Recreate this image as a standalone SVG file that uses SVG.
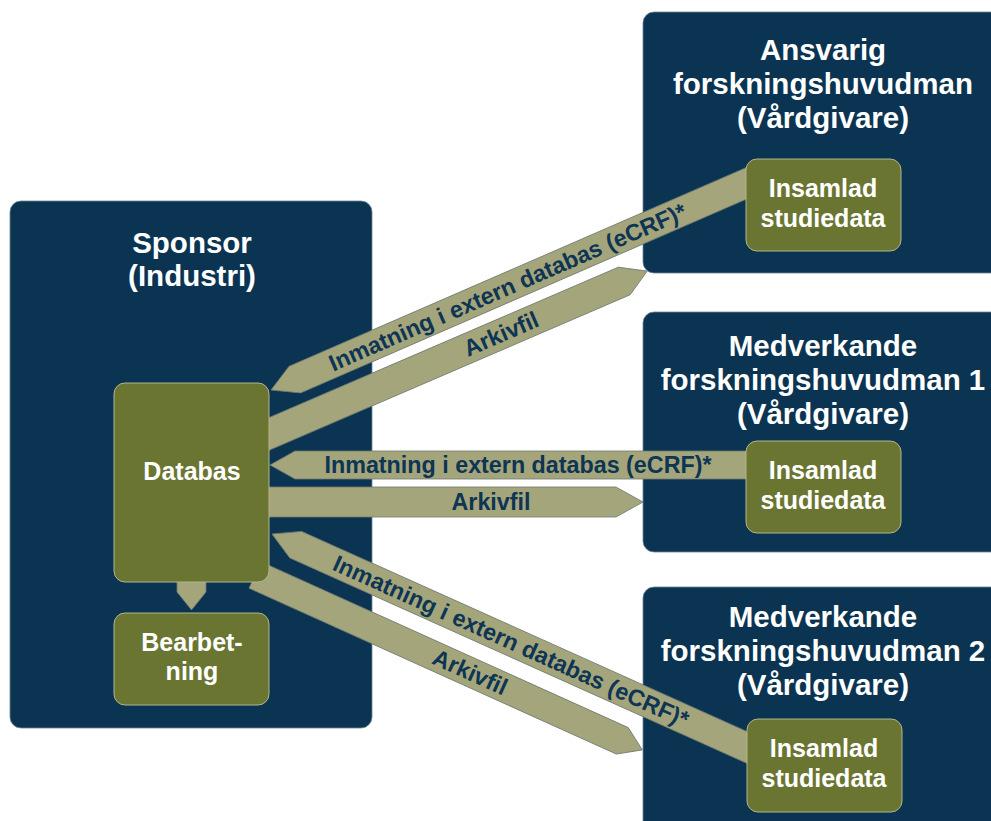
<svg xmlns="http://www.w3.org/2000/svg" width="991" height="821" viewBox="0 0 991 821">
  <style>
    .org { fill: #0b3452; stroke: #6f8496; stroke-width: 0.8; }
    .unit { fill: #6b7532; stroke: #b4b58c; stroke-width: 1; }
    .flow { fill: #a4a57b; stroke: #6f7a72; stroke-width: 0.8; }
    .title { font-family: "Liberation Sans", Arial, sans-serif; font-weight: bold; font-size: 29.5px; fill: #ffffff; text-anchor: middle; }
    .name { font-family: "Liberation Sans", Arial, sans-serif; font-weight: bold; font-size: 25px; fill: #ffffff; text-anchor: middle; }
    .lbl { font-family: "Liberation Sans", Arial, sans-serif; font-weight: bold; font-size: 23.3px; fill: #0e3553; text-anchor: middle; }
  </style>
  <rect width="991" height="821" fill="#ffffff"/>

  <!-- organisations -->
  <g id="sponsor">
    <rect class="org" x="10" y="201" width="362" height="527" rx="11"/>
    <text class="title" x="192" y="253">Sponsor</text>
    <text class="title" x="192" y="286">(Industri)</text>
  </g>
  <g id="ansvarig">
    <rect class="org" x="643" y="12" width="370" height="261" rx="11"/>
    <text class="title" x="823" y="60">Ansvarig</text>
    <text class="title" x="823" y="94">forskningshuvudman</text>
    <text class="title" x="823" y="128">(Vårdgivare)</text>
  </g>
  <g id="medverkande1">
    <rect class="org" x="643" y="312" width="370" height="240" rx="11"/>
    <text class="title" x="823" y="356">Medverkande</text>
    <text class="title" x="823" y="390">forskningshuvudman 1</text>
    <text class="title" x="823" y="424">(Vårdgivare)</text>
  </g>
  <g id="medverkande2">
    <rect class="org" x="643" y="587" width="370" height="260" rx="11"/>
    <text class="title" x="823" y="627">Medverkande</text>
    <text class="title" x="823" y="661">forskningshuvudman 2</text>
    <text class="title" x="823" y="695">(Vårdgivare)</text>
  </g>

  <!-- data flows -->
  <g id="connectors">
    <!-- Ansvarig -> Databas (eCRF) -->
    <g transform="translate(271,390) rotate(-23.5)">
      <polygon class="flow" points="0,0 26,-14.5 540,-14.5 540,14.5 26,14.5"/>
      <text class="lbl" x="258" y="8">Inmatning i extern databas (eCRF)*</text>
    </g>
    <!-- Databas -> Ansvarig (Arkivfil) -->
    <g transform="translate(255,440) rotate(-23.3)">
      <polygon class="flow" points="0,-15 402,-15 427,0 402,15 0,15"/>
      <text class="lbl" x="268" y="8">Arkivfil</text>
    </g>
    <!-- Medverkande 1 -> Databas (eCRF) -->
    <g transform="translate(270,465)">
      <polygon class="flow" points="0,0 25,-14 490,-14 490,14 25,14"/>
      <text class="lbl" x="248" y="8">Inmatning i extern databas (eCRF)*</text>
    </g>
    <!-- Databas -> Medverkande 1 (Arkivfil) -->
    <g transform="translate(255,502)">
      <polygon class="flow" points="0,-15 361,-15 388,0 361,15 0,15"/>
      <text class="lbl" x="236" y="8">Arkivfil</text>
    </g>
    <!-- Medverkande 2 -> Databas (eCRF) -->
    <g transform="translate(272,534) rotate(24.2)">
      <polygon class="flow" points="0,0 26,-14.5 540,-14.5 540,14.5 26,14.5"/>
      <text class="lbl" x="262" y="8">Inmatning i extern databas (eCRF)*</text>
    </g>
    <!-- Databas -> Medverkande 2 (Arkivfil) -->
    <g transform="translate(255,575) rotate(24.3)">
      <polygon class="flow" points="0,-14.5 403,-14.5 425,0 403,14.5 0,14.5"/>
      <text class="lbl" x="236" y="8">Arkivfil</text>
    </g>
    <!-- Databas -> Bearbetning -->
    <polygon class="flow" points="177,580 206,580 206,592 191.5,610 177,592"/>
  </g>

  <!-- data stores -->
  <g id="databas">
    <rect class="unit" x="114" y="383" width="155" height="199" rx="11"/>
    <text class="name" x="192" y="480">Databas</text>
  </g>
  <g id="bearbetning">
    <rect class="unit" x="114" y="613" width="155" height="92" rx="11"/>
    <text class="name" x="192" y="651">Bearbet-</text>
    <text class="name" x="192" y="680">ning</text>
  </g>
  <g id="insamlad1">
    <rect class="unit" x="746" y="159" width="155" height="92" rx="11"/>
    <text class="name" x="823" y="197">Insamlad</text>
    <text class="name" x="823" y="227">studiedata</text>
  </g>
  <g id="insamlad2">
    <rect class="unit" x="746" y="441" width="155" height="92" rx="11"/>
    <text class="name" x="823" y="479">Insamlad</text>
    <text class="name" x="823" y="509">studiedata</text>
  </g>
  <g id="insamlad3">
    <rect class="unit" x="747" y="719" width="155" height="93" rx="11"/>
    <text class="name" x="824" y="757">Insamlad</text>
    <text class="name" x="824" y="787">studiedata</text>
  </g>
</svg>
